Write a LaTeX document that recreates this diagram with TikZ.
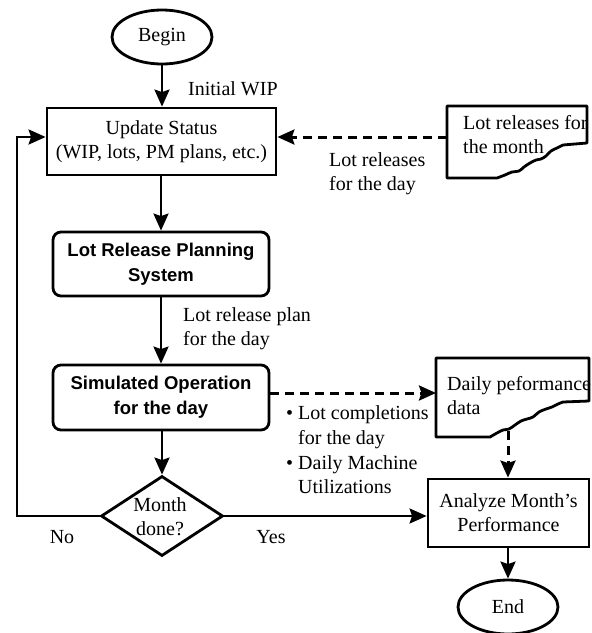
\documentclass[tikz,border=0pt]{standalone}
\usepackage{fontspec}
\setmainfont{Liberation Serif}
\newfontfamily\bsans{Liberation Sans}
\usetikzlibrary{shapes.geometric,arrows.meta}
\begin{document}
\begin{tikzpicture}[x=1pt,y=-1pt,
  every node/.style={font=\fontsize{20}{24}\selectfont},
  box/.style={draw, line width=2.8pt, rectangle, align=center, inner sep=0pt},
  rbox/.style={box, rounded corners=8pt, font=\fontsize{18.5}{25}\selectfont\bsans\bfseries},
  term/.style={draw, ellipse, line width=2.8pt, minimum width=100pt, minimum height=54pt, inner sep=0pt},
  arr/.style={line width=2.6pt, -{Stealth[length=17pt,width=15pt,inset=2.5pt]}},
  darr/.style={arr, line width=3pt, dash pattern=on 9pt off 6pt},
  docline/.style={line width=2.8pt, line join=round},
  lbl/.style={align=left, inner sep=0pt, anchor=west}
]
\useasboundingbox (0,0) rectangle (592,633);

% main flow nodes
\node[term] (begin) at (162,37) {Begin};
\node[box, minimum width=229pt, minimum height=67pt] (update) at (161.5,141.5) {Update Status\\(WIP, lots, PM plans, etc.)};
\node[rbox, minimum width=216pt, minimum height=64pt] (lrps) at (161,264) {Lot Release Planning\\System};
\node[rbox, minimum width=216pt, minimum height=65pt] (sim) at (161,397.5) {Simulated Operation\\for the day};
\node[draw, diamond, line width=2.8pt, minimum width=122pt, minimum height=80pt, inner sep=0pt] (dm) at (162,516) {};
\node[align=center, inner sep=0pt] (dmt) at (160,516.5) {Month\\done?};
\node[box, minimum width=161pt, minimum height=68pt] (an) at (508.5,513) {Analyze Month's\\Performance};
\node[term] (end) at (508,607) {End};

% documents
\draw[docline] (447,178) -- (447,106) -- (587,106) -- (587,143) -- (563,145)
  -- plot[smooth, tension=0.6] coordinates {(563,145) (557,148) (551,151) (546,156) (541,159) (536,160) (530,163) (524,167) (519,171) (512,172) (505,175) (497,178)} -- cycle;
\node[lbl] (d1t) at (463,135) {Lot releases for\\the month};

\draw[docline] (436,437) -- (436,358) -- (589,358) -- (589,401) -- (563,402)
  -- plot[smooth, tension=0.6] coordinates {(563,402) (558,404) (552,407) (546,409) (539,412) (533,417) (527,419) (521,421) (515,425) (509,429) (503,430) (497,433) (490,437)} -- cycle;
\node[lbl] (d2t) at (447,395.5) {Daily peformance\\data};

% labels
\node[lbl] (initwip) at (188,89) {Initial WIP};
\node[lbl] (lrday) at (329,173.5) {Lot releases\\for the day};
\node[lbl] (lrplan) at (183,329) {Lot release plan\\for the day};
\node[lbl, font=\fontsize{20}{24.7}\selectfont] (bul) at (286,450) {\makebox[12pt][l]{•}Lot completions\\\hspace*{12pt}for the day\\\makebox[12pt][l]{•}Daily Machine\\\hspace*{12pt}Utilizations};
\node (no) at (62,537) {No};
\node (yes) at (271,537) {Yes};

% connector helper points
\coordinate (upin) at (47,137);
\coordinate (loopc) at (17,516);
\coordinate (d1in) at (447,137);
\coordinate (d2in) at (436,393);
\coordinate (d2out) at (508,431);

% connectors
\draw[arr] (begin.south) -- (begin.south |- update.north);
\draw[darr] (d1in) -- (d1in -| update.east);
\draw[arr] (dm.west) -- (loopc) |- (update.west |- upin);
\draw[arr] (lrps.north |- update.south) -- (lrps.north);
\draw[arr] (lrps.south) -- (sim.north);
\draw[arr] (dm.north |- sim.south) -- (dm.north);
\draw[darr] (sim.east |- d2in) -- (d2in);
\draw[arr] (dm.east) -- (an.west |- dm.east);
\draw[darr] (d2out) -- (d2out |- an.north);
\draw[arr] (end.north |- an.south) -- (end.north);
\end{tikzpicture}
\end{document}
